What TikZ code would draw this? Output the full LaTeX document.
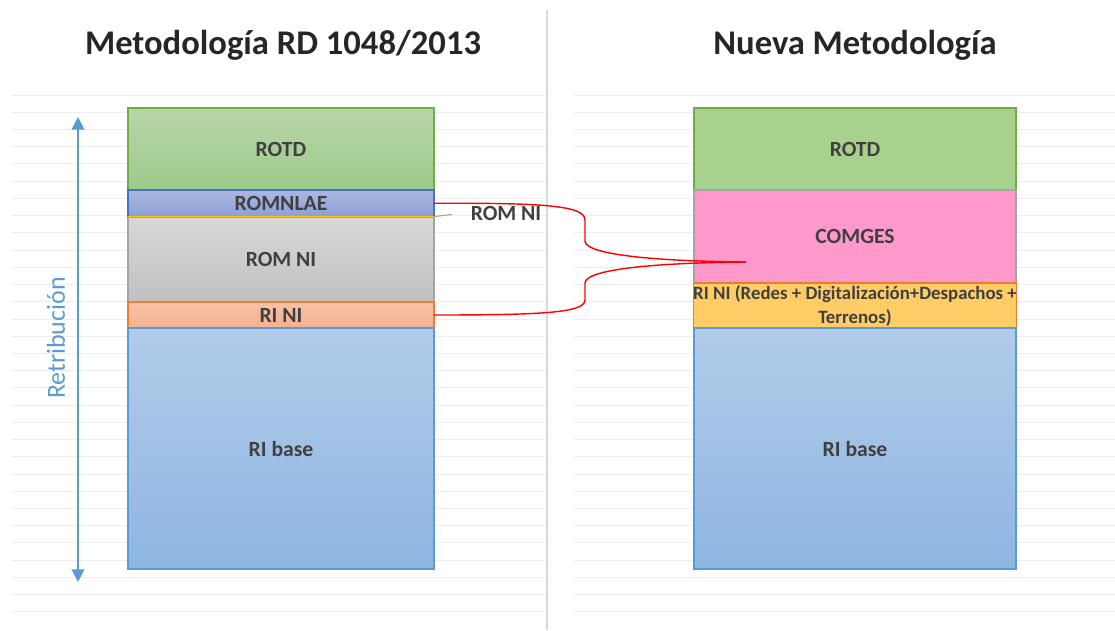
\documentclass[tikz,border=0pt]{standalone}
\usepackage{fontspec}
\setmainfont{Carlito}
\usetikzlibrary{positioning,arrows.meta}
\newcommand{\px}{0.025cm}
\newcommand{\ColA}{306}
\newcommand{\ColB}{322}
\definecolor{labelgray}{HTML}{404040}
\definecolor{titlegray}{HTML}{262626}
\definecolor{gridgray}{RGB}{238,238,238}
\definecolor{sepgray}{RGB}{217,217,217}
\definecolor{axisblue}{HTML}{5B9BD5}
\definecolor{edgegreen}{HTML}{70AD47}
\definecolor{edgeblue}{HTML}{4472C4}
\definecolor{edgegray}{HTML}{A5A5A5}
\definecolor{edgeorange}{HTML}{ED7D31}
\definecolor{layeryellow}{HTML}{FFC000}
\tikzset{
	layer/.style={draw, line width=0.9pt, inner sep=0pt, outer sep=0pt, text=labelgray, align=center,
		font=\bfseries\fontsize{15.4}{18}\selectfont},
	colA/.style={layer, minimum width=\ColA*\px},
	colB/.style={layer, minimum width=\ColB*\px},
	heading/.style={text=titlegray, font=\bfseries\fontsize{24.6}{28}\selectfont, anchor=base},
	gridline/.style={gridgray, line width=0.7pt},
	brace/.style={red, line width=1pt},
}

\begin{document}
\begin{tikzpicture}[x=\px, y=-\px]
	\useasboundingbox (0,0) rectangle (1115,630);
	% background rules
	\foreach \i in {0,...,30} {
		\draw[gridline] (12,{95+17.23*\i}) -- (547,{95+17.23*\i});
		\draw[gridline] (573,{95+17.23*\i}) -- (1115,{95+17.23*\i});
	}
	\draw[sepgray, line width=1.2pt] (547,10) -- (547,630);

	% left column
	\node[heading] (titleA) at (283,55) {Metodología RD 1048/2013};
	\node[colA, minimum height=82*\px, anchor=north west, draw=edgegreen,
		top color={rgb,255:red,182;green,214;blue,168}, bottom color={rgb,255:red,158;green,203;blue,138}] (rotdA) at (128,108) {ROTD};
	\node[colA, minimum height=26.5*\px, below=0pt of rotdA, draw=edgeblue,
		top color={rgb,255:red,172;green,184;blue,225}, bottom color={rgb,255:red,140;green,160;blue,215}] (romnlae) {ROMNLAE};
	\node[colA, minimum height=84.5*\px, below=1*\px of romnlae, draw=edgegray,
		top color={rgb,255:red,216;green,216;blue,216}, bottom color={rgb,255:red,192;green,192;blue,192}] (romni) {ROM NI};
	\node[colA, minimum height=26*\px, below=0pt of romni, draw=edgeorange,
		top color={rgb,255:red,248;green,195;blue,170}, bottom color={rgb,255:red,244;green,176;blue,140}] (rini) {RI NI};
	\node[colA, minimum height=241*\px, below=0pt of rini, draw=axisblue,
		top color={rgb,255:red,178;green,204;blue,234}, bottom color={rgb,255:red,142;green,181;blue,226}] (ribaseA) {RI base};
	\draw[layeryellow, line width=1pt] (romnlae.south west) -- (romnlae.south east);

	% callout for the thin layer
	\node[text=labelgray, font=\bfseries\fontsize{15.4}{18}\selectfont] (callout) at (506,213) {ROM NI};
	\draw[edgegray, line width=0.8pt, shorten >=10pt] (romnlae.south east) -- (callout.west);

	% axis
	\coordinate (axtop) at (78,117);
	\coordinate (axbot) at (78,582);
	\draw[axisblue, line width=1.4pt, {Triangle[width=9pt,length=9pt]}-{Triangle[width=9pt,length=9pt]}] (axtop) -- (axbot);
	\node[rotate=90, text=axisblue, font=\fontsize{18.5}{22}\selectfont] (retri) at (56,338) {Retribución};

	% right column
	\node[heading] (titleB) at (855,55) {Nueva Metodología};
	\node[colB, minimum height=82*\px, anchor=north west, draw=edgegreen, fill={rgb,255:red,169;green,209;blue,142}] (rotdB) at (694,108) {ROTD};
	\node[colB, minimum height=93*\px, below=0pt of rotdB, draw=edgegray, fill={rgb,255:red,255;green,153;blue,204}] (comges) {COMGES};
	\node[colB, minimum height=45*\px, below=0pt of comges, draw=edgeorange, fill={rgb,255:red,255;green,204;blue,102},
		font=\bfseries\fontsize{13.4}{17}\selectfont] (riniB) {RI NI (Redes + Digitalización+Despachos +\\Terrenos)};
	\node[colB, minimum height=241*\px, below=0pt of riniB, draw=axisblue,
		top color={rgb,255:red,178;green,204;blue,234}, bottom color={rgb,255:red,142;green,181;blue,226}] (ribaseB) {RI base};

	% brace joining the old terms into COMGES
	\coordinate (join) at (746,262);
	\draw[brace] (romnlae.east) .. controls (540,203) and (585,205) .. (585,220) -- (585,241)
		.. controls (585,253) and (640,261) .. (join);
	\draw[brace] (rini.east) .. controls (540,315) and (585,313) .. (585,300) -- (585,283)
		.. controls (585,271) and (640,263) .. (join);
\end{tikzpicture}
\end{document}
